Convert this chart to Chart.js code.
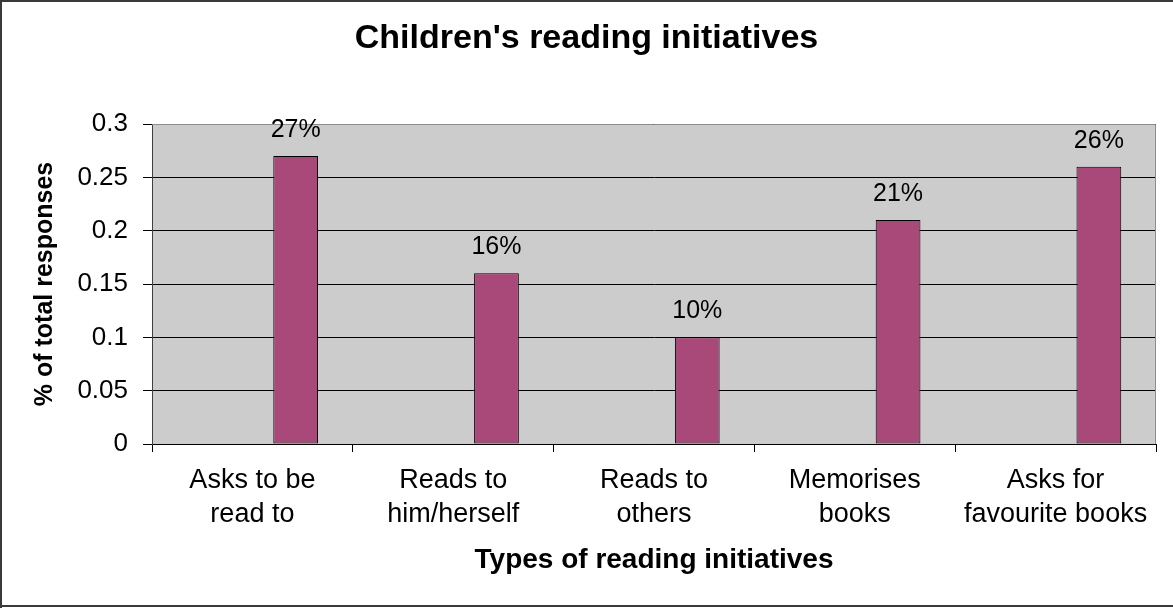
<!DOCTYPE html>
<html>
<head>
<meta charset="utf-8">
<title>Children's reading initiatives</title>
<script src="https://cdn.jsdelivr.net/npm/chart.js@4.4.1/dist/chart.umd.min.js"></script>
<style>
  html, body { margin: 0; padding: 0; background: #fff; }
  canvas { display: block; }
</style>
</head>
<body>
<canvas id="chart" width="1173" height="608"></canvas>
<script>
const categories = [
  ['Asks to be', 'read to'],
  ['Reads to', 'him/herself'],
  ['Reads to', 'others'],
  ['Memorises', 'books'],
  ['Asks for', 'favourite books']
];
// the original sheet has an empty first series, which pushes the bars right of centre
const emptySeries = [null, null, null, null, null];
const shares = [0.27, 0.16, 0.10, 0.21, 0.26];
const yTickLabels = ['0', '0.05', '0.1', '0.15', '0.2', '0.25', '0.3'];

Chart.defaults.font.family = '"Liberation Sans", Arial, sans-serif';
Chart.defaults.color = '#000';

const frame = {
  id: 'frame',
  beforeDraw(chart) {
    const { ctx, chartArea: a } = chart;
    ctx.save();
    ctx.fillStyle = '#fff';
    ctx.fillRect(0, 0, chart.width, chart.height);
    ctx.fillStyle = '#cccccc';
    ctx.fillRect(a.left, a.top, a.right - a.left, a.bottom - a.top);
    ctx.restore();
  },
  beforeDatasetsDraw(chart) {
    const { ctx, chartArea: a } = chart;
    ctx.save();
    ctx.strokeStyle = '#8c8c8c';
    ctx.lineWidth = 1;
    ctx.beginPath();
    ctx.moveTo(a.left, a.top + 0.5);
    ctx.lineTo(a.right - 0.5, a.top + 0.5);
    ctx.lineTo(a.right - 0.5, a.bottom);
    ctx.stroke();
    ctx.restore();
  },
  afterDraw(chart) {
    const { ctx } = chart;
    ctx.save();
    ctx.strokeStyle = '#3a3a3a';
    ctx.lineWidth = 2;
    ctx.beginPath();
    ctx.moveTo(1, chart.height);
    ctx.lineTo(1, 1);
    ctx.lineTo(chart.width, 1);
    ctx.moveTo(0, 606);
    ctx.lineTo(chart.width, 606);
    ctx.stroke();
    ctx.restore();
  }
};

const valueLabels = {
  id: 'valueLabels',
  afterDatasetsDraw(chart) {
    const { ctx } = chart;
    const meta = chart.getDatasetMeta(1);
    ctx.save();
    ctx.font = '25px "Liberation Sans", Arial, sans-serif';
    ctx.fillStyle = '#000';
    ctx.textAlign = 'center';
    ctx.textBaseline = 'alphabetic';
    meta.data.forEach((bar, i) => {
      ctx.fillText(Math.round(shares[i] * 100) + '%', bar.x, bar.y - 19);
    });
    ctx.restore();
  }
};

new Chart(document.getElementById('chart'), {
  type: 'bar',
  data: {
    labels: categories,
    datasets: [
      {
        label: '',
        data: emptySeries,
        backgroundColor: '#a9497a'
      },
      {
        label: '% of total responses',
        data: shares,
        backgroundColor: '#a9497a',
        borderColor: '#000',
        borderWidth: 1,
        borderSkipped: false
      }
    ]
  },
  options: {
    responsive: false,
    animation: false,
    categoryPercentage: 0.862,
    barPercentage: 0.517,
    layout: { padding: { left: 17, right: 17, top: 0, bottom: 0 } },
    plugins: {
      legend: { display: false },
      tooltip: { enabled: false },
      title: {
        display: true,
        text: "Children's reading initiatives",
        color: '#000',
        font: { size: 34, weight: 'bold' },
        padding: { top: 18, bottom: 65.2 }
      }
    },
    scales: {
      x: {
        afterFit: (s) => { s.height = 164; },
        grid: {
          offset: true,
          drawOnChartArea: false,
          drawTicks: true,
          tickLength: 8,
          color: '#000'
        },
        border: { display: true, color: '#000', width: 1 },
        ticks: {
          padding: 12,
          maxRotation: 0,
          font: { size: 27, lineHeight: 1.26 },
          color: '#000'
        },
        title: {
          display: true,
          text: 'Types of reading initiatives',
          font: { size: 28, weight: 'bold' },
          color: '#000',
          padding: { top: 0, bottom: 31 }
        }
      },
      y: {
        min: 0,
        max: 0.3,
        afterFit: (s) => { s.width = 135; },
        grid: {
          color: '#000',
          tickColor: '#000',
          tickLength: 9
        },
        border: { display: true, color: '#404040', width: 1 },
        ticks: {
          stepSize: 0.05,
          padding: 15,
          font: { size: 26 },
          color: '#000',
          callback: (v, i) => yTickLabels[i]
        },
        title: {
          display: true,
          text: '% of total responses',
          font: { size: 25, weight: 'bold' },
          color: '#000',
          padding: { top: 13, bottom: 0 }
        }
      }
    }
  },
  plugins: [frame, valueLabels]
});
</script>
</body>
</html>
